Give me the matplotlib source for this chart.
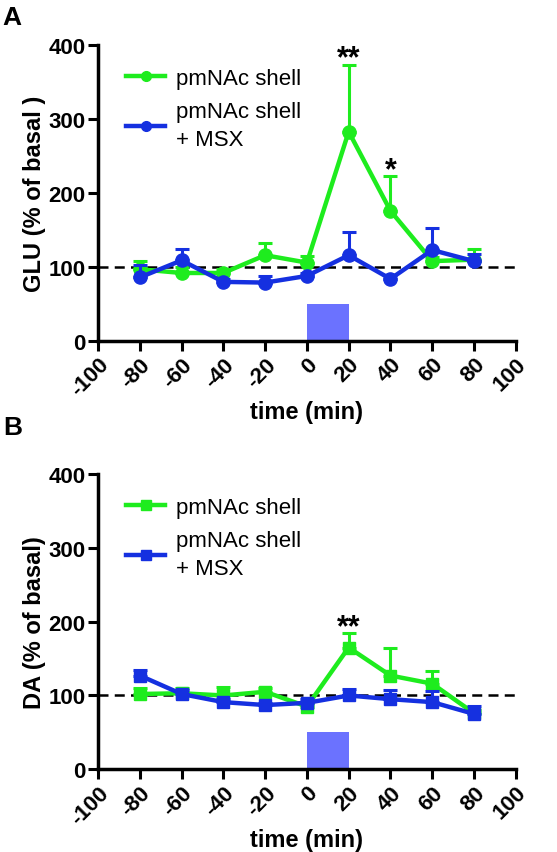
import matplotlib.pyplot as plt
from matplotlib.lines import Line2D
import numpy as np

plt.rcParams['font.family'] = ['Liberation Sans', 'DejaVu Sans']

# time points (min)
times = [-80, -60, -40, -20, 0, 20, 40, 60, 80]

# panel A: glutamate (% of basal)
glu_shell = [97, 92, 92, 116, 106, 283, 176, 108, 110]
glu_shell_err = [11, 8, 5, 17, 9, 90, 47, 6, 15]
glu_msx = [86, 109, 80, 79, 88, 116, 84, 123, 108]
glu_msx_err = [17, 16, 4, 9, 4, 31, 5, 30, 10]

# panel B: dopamine (% of basal)
da_shell = [102, 103, 100, 105, 85, 165, 127, 116, 76]
da_shell_err = [8, 7, 12, 5, 4, 19, 37, 17, 4]
da_msx = [127, 102, 91, 87, 90, 100, 95, 91, 75]
da_msx_err = [8, 5, 4, 3, 5, 9, 12, 15, 11]

green = '#1eec1e'
blue = '#1530e0'
legend_labels = ['pmNAc shell', 'pmNAc shell\n+ MSX']
xticks = np.arange(-100, 101, 20)
yticks = [0, 100, 200, 300, 400]


def draw_panel(ax, shell, shell_err, msx, msx_err, marker, ylabel, stars):
    ax.bar(0, 50, width=20, align='edge', color='#6b72ff', zorder=1)
    ax.axhline(100, color='black', ls=(0, (4, 2.5)), lw=1.8, zorder=2)
    ms = 9.5 if marker == 'o' else 8.5
    handles = []
    for y, err, col, z in [(shell, shell_err, green, 3), (msx, msx_err, blue, 4)]:
        ax.errorbar(times, y, yerr=[np.zeros(len(err)), err], color=col, lw=3.2,
                    marker=marker, ms=ms, elinewidth=2.2, capsize=5, capthick=2.2,
                    zorder=z)
        handles.append(Line2D([], [], color=col, lw=3.2, marker=marker, ms=7))
    for x, yv, s in stars:
        ax.text(x, yv, s, ha='center', va='baseline', fontsize=22, fontweight='bold')
    ax.set_xlim(-100, 100)
    ax.set_ylim(0, 400)
    ax.set_xticks(xticks)
    ax.set_yticks(yticks)
    ax.set_xticklabels([str(t) for t in xticks], rotation=45, ha='right',
                       rotation_mode='anchor', fontsize=16, fontweight='bold')
    ax.set_yticklabels([str(t) for t in yticks], fontsize=16, fontweight='bold')
    for side in ['top', 'right']:
        ax.spines[side].set_visible(False)
    for side in ['left', 'bottom']:
        ax.spines[side].set_linewidth(2.5)
    ax.tick_params(direction='out', length=7, width=2.2, pad=2)
    ax.set_xlabel('time (min)', fontsize=17, fontweight='bold', labelpad=0)
    ax.set_ylabel(ylabel, fontsize=17, fontweight='bold', labelpad=2)
    leg = ax.legend(handles, legend_labels, loc='upper left',
                    bbox_to_anchor=(0.02, 0.99), frameon=False, fontsize=16,
                    handlelength=1.75, handletextpad=0.5, labelspacing=0.55)
    leg.get_texts()[1].set_linespacing(1.45)


fig = plt.figure(figsize=(5.57, 8.53), dpi=100)
axA = fig.add_axes([0.176, 0.599, 0.75, 0.347])
axB = fig.add_axes([0.176, 0.097, 0.75, 0.346])

draw_panel(axA, glu_shell, glu_shell_err, glu_msx, glu_msx_err, 'o',
           'GLU (% of basal )', [(20, 372, '**'), (40, 220, '*')])
draw_panel(axB, da_shell, da_shell_err, da_msx, da_msx_err, 's',
           'DA (% of basal)', [(20, 182, '**')])

fig.text(0.005, 0.993, 'A', fontsize=19, fontweight='bold', va='top')
fig.text(0.005, 0.512, 'B', fontsize=19, fontweight='bold', va='top')

fig.savefig('out.png', dpi=100)
